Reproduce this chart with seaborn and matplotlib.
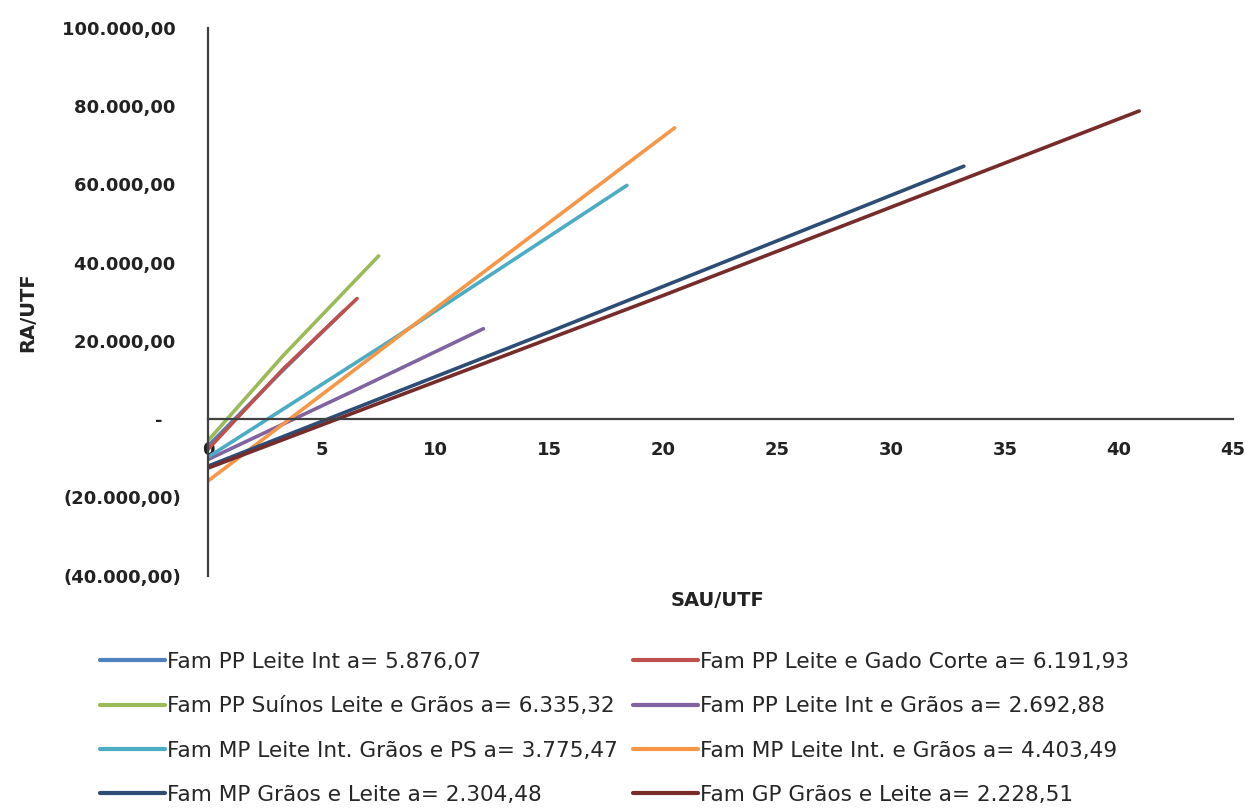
import numpy as np
import pandas as pd
import seaborn as sns
import matplotlib.pyplot as plt
from matplotlib.ticker import FuncFormatter

# ---- data ----
series = [
    "Fam PP Leite Int a= 5.876,07",
    "Fam PP Leite e Gado Corte a= 6.191,93",
    "Fam PP Suínos Leite e Grãos a= 6.335,32",
    "Fam PP Leite Int e Grãos a= 2.692,88",
    "Fam MP Leite Int. Grãos e PS a= 3.775,47",
    "Fam MP Leite Int. e Grãos a= 4.403,49",
    "Fam MP Grãos e Leite a= 2.304,48",
    "Fam GP Grãos e Leite a= 2.228,51",
]
sau_pp_leite = [0, 3.3, 6.0]
ra_pp_leite = [-6850, 12500, 27800]
sau_pp_gado = [0, 3.3, 6.55]
ra_pp_gado = [-7700, 12800, 30800]
sau_pp_suinos = [0, 3.3, 7.5]
ra_pp_suinos = [-5500, 16200, 41700]
sau_pp_graos = [0, 6.5, 12.1]
ra_pp_graos = [-10300, 7500, 23100]
sau_mp_ps = [0, 8.0, 18.4]
ra_mp_ps = [-9700, 20000, 59700]
sau_mp_leite = [0, 10.0, 20.5]
ra_mp_leite = [-15800, 28300, 74400]
sau_mp_graos = [0, 15.0, 33.2]
ra_mp_graos = [-12000, 22300, 64600]
sau_gp = [0, 20.0, 40.9]
ra_gp = [-12500, 31600, 78700]

xs = [sau_pp_leite, sau_pp_gado, sau_pp_suinos, sau_pp_graos,
      sau_mp_ps, sau_mp_leite, sau_mp_graos, sau_gp]
ys = [ra_pp_leite, ra_pp_gado, ra_pp_suinos, ra_pp_graos,
      ra_mp_ps, ra_mp_leite, ra_mp_graos, ra_gp]

colors = ["#4F81BD", "#C0504D", "#9BBB59", "#8064A2",
          "#4BACC6", "#F79646", "#2C4D75", "#772C2A"]

df = pd.concat([pd.DataFrame({"SAU/UTF": x, "RA/UTF": y, "serie": s})
                for s, x, y in zip(series, xs, ys)], ignore_index=True)

sns.set_style("white")
plt.rcParams['font.family'] = ['DejaVu Sans']

fig = plt.figure(figsize=(12.45, 8.11), dpi=100)
ax = fig.add_axes([0.167, 0.290, 0.823, 0.676])

sns.lineplot(data=df, x="SAU/UTF", y="RA/UTF", hue="serie", palette=colors,
             sort=False, estimator=None, linewidth=2.6, ax=ax, legend=False)

ax.set_xlim(0, 45)
ax.set_ylim(-40000, 100000)
ax.set_xticks(np.arange(0, 50, 5))
ax.set_yticks(np.arange(-40000, 100001, 20000))


def fmt_br(v, pos):
    if v == 0:
        return "-   "
    s = f"{abs(v):,.2f}".replace(",", "X").replace(".", ",").replace("X", ".")
    return f"({s})" if v < 0 else s + " "


ax.yaxis.set_major_formatter(FuncFormatter(fmt_br))
ax.spines['bottom'].set_position(('data', 0))
ax.spines['top'].set_visible(False)
ax.spines['right'].set_visible(False)
for sp in ['left', 'bottom']:
    ax.spines[sp].set_color('#404040')
    ax.spines[sp].set_linewidth(1.6)
ax.tick_params(axis='both', length=0, labelsize=13, colors='#222222')
ax.tick_params(axis='x', pad=16)
ax.tick_params(axis='y', pad=19)
for lab in ax.get_xticklabels() + ax.get_yticklabels():
    lab.set_fontweight('bold')
ax.set_xlabel("")
ax.set_ylabel("")

fig.text(28 / 1245, 1 - 312 / 811, "RA/UTF", rotation=90, ha='center', va='center',
         fontsize=14, fontweight='bold', color='#222222')
fig.text(718 / 1245, 1 - 600 / 811, "SAU/UTF", ha='center', va='center',
         fontsize=14, fontweight='bold', color='#222222')

# legend laid out row by row, two columns
handles = [plt.Line2D([], [], color=c, linewidth=3) for c in colors]
order = [0, 2, 4, 6, 1, 3, 5, 7]
fig.legend([handles[i] for i in order], [series[i] for i in order],
           loc='upper left', bbox_to_anchor=(100 / 1245, 1 - 652 / 811),
           ncol=2, frameon=False, prop={'size': 15.6},
           handlelength=3.0, handletextpad=0.1, columnspacing=0.7,
           labelspacing=1.12, borderaxespad=0, borderpad=0)

fig.savefig("out.png", dpi=100)
